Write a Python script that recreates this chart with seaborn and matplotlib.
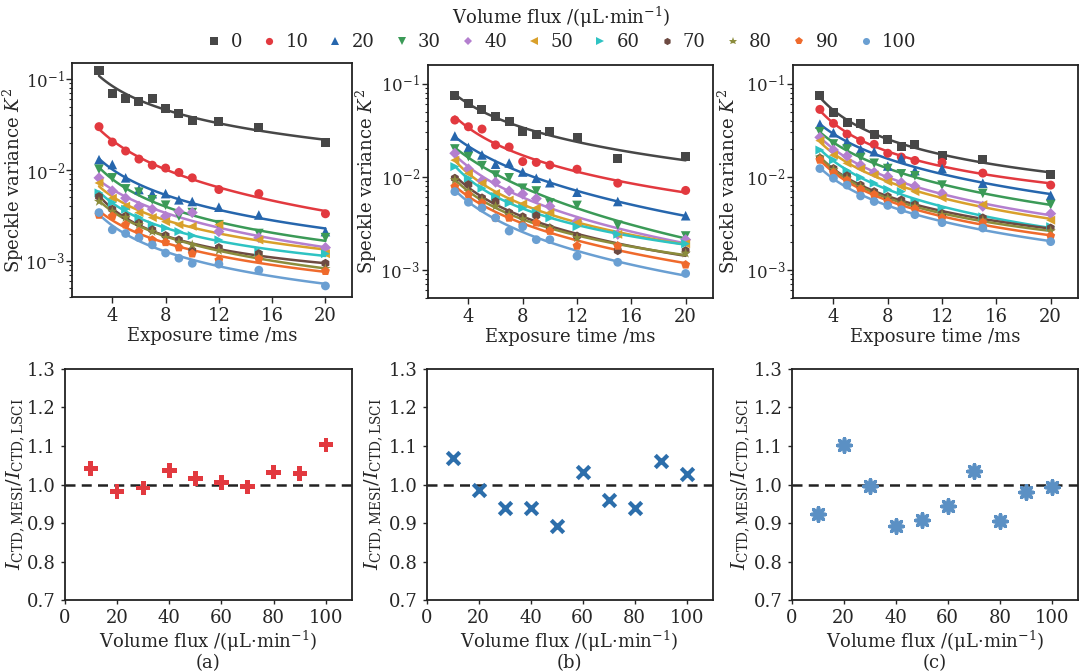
import matplotlib
matplotlib.use("Agg")
import matplotlib.pyplot as plt
from matplotlib.lines import Line2D
import matplotlib.ticker as ticker
import numpy as np
import pandas as pd
import seaborn as sns

sns.set_theme(style="ticks")
plt.rcParams["font.family"] = ["DejaVu Serif"]
plt.rcParams["mathtext.fontset"] = "dejavuserif"

# --- data ---
flux = [0, 10, 20, 30, 40, 50, 60, 70, 80, 90, 100]
exposure = [3, 4, 5, 6, 7, 8, 9, 10, 12, 15, 20]

k2_a = [
    [0.126, 0.070, 0.0617, 0.057, 0.062, 0.0474, 0.0417, 0.0352, 0.0338, 0.0297, 0.0199],
    [0.030, 0.0203, 0.0162, 0.0132, 0.0113, 0.0105, 0.0094, 0.0082, 0.0061, 0.0055, 0.0033],
    [0.0130, 0.0115, 0.0082, 0.0061, 0.0055, 0.0055, 0.0047, 0.0045, 0.0039, 0.0032, 0.0021],
    [0.0102, 0.0082, 0.0062, 0.0057, 0.0047, 0.0041, 0.0031, 0.0034, 0.0025, 0.0020, 0.0018],
    [0.0082, 0.0059, 0.0049, 0.0040, 0.0037, 0.0031, 0.0035, 0.0034, 0.0021, 0.0018, 0.0014],
    [0.0072, 0.0049, 0.0040, 0.0034, 0.0030, 0.0027, 0.0025, 0.0024, 0.0025, 0.0017, 0.0012],
    [0.0056, 0.0044, 0.0037, 0.0030, 0.0025, 0.0023, 0.0021, 0.0019, 0.0017, 0.00126, 0.0012],
    [0.0051, 0.0037, 0.0031, 0.0026, 0.0022, 0.0019, 0.0017, 0.0013, 0.0014, 0.0012, 0.00094],
    [0.0045, 0.0035, 0.0030, 0.0025, 0.0021, 0.0018, 0.0016, 0.0015, 0.0013, 0.0011, 0.00082],
    [0.0032, 0.0031, 0.0025, 0.0021, 0.0017, 0.0016, 0.0014, 0.0012, 0.00102, 0.00105, 0.00077],
    [0.0034, 0.0022, 0.0020, 0.0018, 0.0015, 0.00122, 0.00107, 0.00094, 0.00092, 0.00079, 0.00053],
]
k2_b = [
    [0.074, 0.061, 0.053, 0.0447, 0.0395, 0.0303, 0.028, 0.0303, 0.0262, 0.0158, 0.0164],
    [0.0405, 0.0343, 0.0324, 0.0219, 0.0208, 0.0145, 0.0142, 0.0133, 0.0120, 0.0085, 0.0071],
    [0.0273, 0.0206, 0.0171, 0.0136, 0.0140, 0.0112, 0.0096, 0.0086, 0.0068, 0.0054, 0.0038],
    [0.0198, 0.0164, 0.0131, 0.0104, 0.0097, 0.0075, 0.0070, 0.0052, 0.0049, 0.0030, 0.0023],
    [0.0178, 0.0121, 0.0090, 0.0087, 0.0070, 0.0065, 0.0058, 0.0048, 0.0033, 0.0024, 0.0021],
    [0.0150, 0.0108, 0.0085, 0.0066, 0.0056, 0.0051, 0.0046, 0.0041, 0.0032, 0.0024, 0.0019],
    [0.0128, 0.0096, 0.0075, 0.0061, 0.0052, 0.0046, 0.0041, 0.0036, 0.0029, 0.0024, 0.0019],
    [0.0096, 0.0082, 0.0059, 0.0054, 0.0041, 0.0037, 0.0038, 0.0028, 0.0023, 0.0016, 0.0016],
    [0.0092, 0.0069, 0.0056, 0.0048, 0.0039, 0.0035, 0.0032, 0.0028, 0.0022, 0.0018, 0.0015],
    [0.0078, 0.0064, 0.0052, 0.0036, 0.0036, 0.0030, 0.0032, 0.0026, 0.0018, 0.0018, 0.00113],
    [0.0069, 0.0053, 0.0046, 0.0036, 0.0026, 0.0029, 0.0021, 0.0021, 0.0014, 0.0012, 0.00091],
]
k2_c = [
    [0.075, 0.0485, 0.038, 0.037, 0.028, 0.025, 0.021, 0.022, 0.017, 0.0153, 0.0105],
    [0.0527, 0.0373, 0.0286, 0.0243, 0.0222, 0.0178, 0.0162, 0.0149, 0.0142, 0.0109, 0.0081],
    [0.0366, 0.0296, 0.0237, 0.0196, 0.0185, 0.0130, 0.0158, 0.0116, 0.0122, 0.0085, 0.0063],
    [0.0303, 0.0224, 0.0198, 0.0160, 0.0139, 0.0122, 0.0107, 0.0102, 0.0081, 0.0066, 0.0050],
    [0.0264, 0.0193, 0.0166, 0.0133, 0.0111, 0.0100, 0.0086, 0.0079, 0.0066, 0.0048, 0.0040],
    [0.0243, 0.0170, 0.0139, 0.0121, 0.0104, 0.0088, 0.0078, 0.0069, 0.0059, 0.0050, 0.0034],
    [0.0193, 0.0151, 0.0116, 0.0098, 0.0085, 0.0073, 0.0069, 0.0054, 0.0046, 0.0037, 0.0029],
    [0.0158, 0.0122, 0.0102, 0.0081, 0.0069, 0.0061, 0.0056, 0.0050, 0.0040, 0.0036, 0.0028],
    [0.0161, 0.0119, 0.0096, 0.0078, 0.0066, 0.0059, 0.0052, 0.0048, 0.0039, 0.0034, 0.0026],
    [0.0151, 0.0110, 0.0091, 0.0073, 0.0064, 0.0054, 0.0049, 0.0045, 0.0036, 0.0032, 0.0023],
    [0.0122, 0.0096, 0.0081, 0.0062, 0.0054, 0.0049, 0.0044, 0.0039, 0.0032, 0.0028, 0.0020],
]

ratio_flux = [10, 20, 30, 40, 50, 60, 70, 80, 90, 100]
ratio_a = [1.042, 0.982, 0.991, 1.037, 1.015, 1.005, 0.994, 1.032, 1.028, 1.103]
ratio_b = [1.069, 0.987, 0.939, 0.939, 0.892, 1.032, 0.959, 0.938, 1.061, 1.027]
ratio_c = [0.924, 1.103, 0.996, 0.892, 0.909, 0.945, 1.035, 0.905, 0.981, 0.994]

colors = ["#474747", "#e2393f", "#2666ad", "#3b9a57", "#b47fcf", "#d9a02b",
          "#2ec3c3", "#6d4a42", "#8b8c3c", "#ef6a2c", "#6a9fd2"]
markers = ["s", "o", "^", "v", "D", "<", ">", "h", "*", "p", "o"]
msizes = [42, 42, 48, 48, 32, 42, 42, 42, 60, 46, 40]

palette = {f: c for f, c in zip(flux, colors)}
marker_map = {f: m for f, m in zip(flux, markers)}


def long_frame(k2):
    rows = []
    for f, vals in zip(flux, k2):
        for t, v in zip(exposure, vals):
            rows.append((t, f, v))
    return pd.DataFrame(rows, columns=["time", "flux", "k2"])


def fit_frame(df):
    # quadratic regression in log-log space for each flow rate
    t = np.linspace(3, 20, 120)
    parts = []
    for f, g in df.groupby("flux"):
        c = np.polyfit(np.log(g["time"]), np.log(g["k2"]), 2)
        parts.append(pd.DataFrame({"time": t, "flux": f,
                                   "k2": np.exp(np.polyval(c, np.log(t)))}))
    return pd.concat(parts)


def style_spines(ax):
    for s in ax.spines.values():
        s.set_linewidth(1.3)
        s.set_color("#222222")


fig = plt.figure(figsize=(10.8, 6.72), dpi=100)
top_pos = [[0.067, 0.558, 0.259, 0.348],
           [0.396, 0.557, 0.264, 0.347],
           [0.734, 0.557, 0.264, 0.347]]
bot_pos = [[0.060, 0.107, 0.266, 0.344],
           [0.395, 0.107, 0.265, 0.344],
           [0.733, 0.107, 0.265, 0.344]]
ylims = [(4e-4, 0.15), (5e-4, 0.16), (5e-4, 0.16)]
top_ylab_x = [-0.165, -0.17, -0.18]
bot_ylab_x = [-0.13, -0.147, -0.14]

tick_fs = 13
label_fs = 13

for pos, k2, yl, lx in zip(top_pos, [k2_a, k2_b, k2_c], ylims, top_ylab_x):
    ax = fig.add_axes(pos)
    df = long_frame(k2)
    fits = fit_frame(df)
    sns.lineplot(data=fits, x="time", y="k2", hue="flux", palette=palette,
                 linewidth=1.8, legend=False, ax=ax, zorder=2)
    for f in flux:
        sub = df[df["flux"] == f]
        sns.scatterplot(data=sub, x="time", y="k2", color=palette[f],
                        marker=marker_map[f], s=msizes[flux.index(f)],
                        edgecolor="none", legend=False, ax=ax, zorder=3)
    ax.set_yscale("log")
    ax.set_xlim(1, 22)
    ax.set_ylim(*yl)
    ax.set_xticks([4, 8, 12, 16, 20])
    ax.set_xlabel("Exposure time /ms", fontsize=label_fs, labelpad=1)
    ax.set_ylabel("Speckle variance $K^2$", fontsize=label_fs)
    ax.yaxis.set_label_coords(lx, 0.5)
    ax.tick_params(axis="x", which="major", labelsize=tick_fs,
                   direction="out", length=4, width=1)
    ax.tick_params(axis="y", which="major", labelsize=tick_fs - 1, pad=1.5,
                   direction="out", length=4, width=1)
    ax.tick_params(axis="y", which="minor", direction="out", length=2, width=0.8)
    style_spines(ax)

panel_tags = ["(a)", "(b)", "(c)"]
ratio_sets = [ratio_a, ratio_b, ratio_c]
ratio_colors = ["#e2393f", "#2c6eab", "#5b90c4"]
ratio_markers = ["P", "x", (8, 2, 0)]
ratio_sizes = [110, 80, 95]
ratio_lw = [0, 3.0, 2.6]

for pos, vals, col, mk, sz, lw, tag, lx in zip(bot_pos, ratio_sets, ratio_colors,
                                               ratio_markers, ratio_sizes, ratio_lw,
                                               panel_tags, bot_ylab_x):
    ax = fig.add_axes(pos)
    rdf = pd.DataFrame({"flux": ratio_flux, "ratio": vals})
    ax.axhline(1.0, color="#222222", linestyle=(0, (4, 2.5)), linewidth=1.8, zorder=1)
    if lw > 0:
        sns.scatterplot(data=rdf, x="flux", y="ratio", color=col, marker=mk,
                        s=sz, linewidth=lw, edgecolor=col, legend=False,
                        ax=ax, zorder=3)
    else:
        sns.scatterplot(data=rdf, x="flux", y="ratio", color=col, marker=mk,
                        s=sz, edgecolor="none", legend=False, ax=ax, zorder=3)
    ax.set_xlim(0, 110)
    ax.set_ylim(0.7, 1.3)
    ax.set_xticks([0, 20, 40, 60, 80, 100])
    ax.set_yticks([0.7, 0.8, 0.9, 1.0, 1.1, 1.2, 1.3])
    ax.yaxis.set_major_formatter(ticker.FormatStrFormatter("%.1f"))
    ax.set_xlabel("Volume flux /(μL·min$^{-1}$)\n" + tag, fontsize=label_fs,
                  labelpad=1, linespacing=1.05)
    ax.set_ylabel(r"$I_{\mathrm{CTD,MESI}}/I_{\mathrm{CTD,LSCI}}$",
                  fontsize=label_fs + 1)
    ax.yaxis.set_label_coords(lx, 0.5)
    ax.tick_params(axis="both", which="major", labelsize=tick_fs,
                   direction="out", length=3, width=1)
    style_spines(ax)

handles = [Line2D([], [], linestyle="none", marker=m, color=c,
                  markersize=np.sqrt(s) * 0.8, markeredgewidth=0)
           for m, c, s in zip(markers, colors, msizes)]
leg = fig.legend(handles, [str(f) for f in flux], loc="upper center",
                 bbox_to_anchor=(0.52, 1.012), ncol=11, frameon=False,
                 fontsize=tick_fs, title="Volume flux /(μL·min$^{-1}$)",
                 title_fontsize=tick_fs, handletextpad=0.5, columnspacing=1.1,
                 handlelength=0.8, borderpad=0.2, labelspacing=0.2)
leg.get_title().set_color("#222222")

fig.savefig("out.png", dpi=100)
